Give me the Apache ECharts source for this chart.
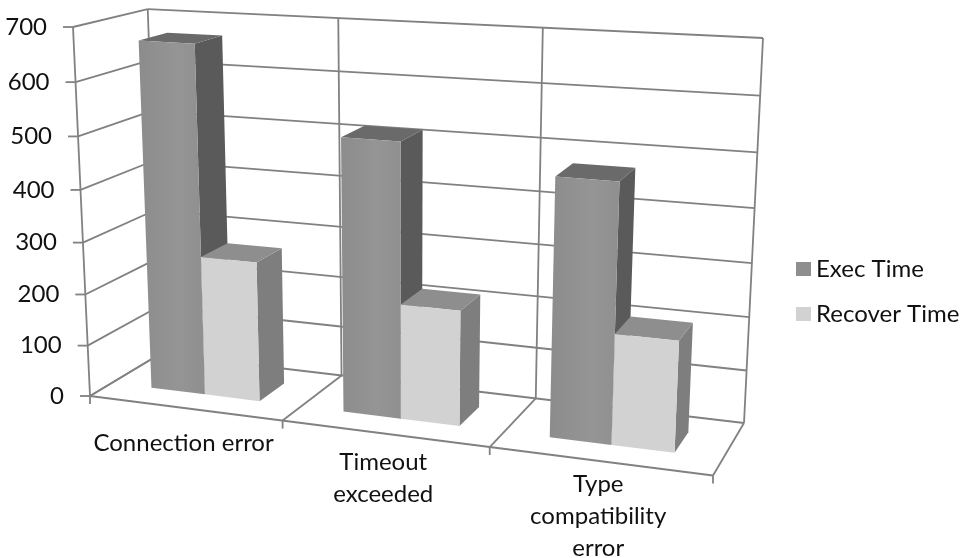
<!DOCTYPE html>
<html>
<head>
<meta charset="utf-8">
<style>html,body{margin:0;padding:0;background:#fff}#chart{width:969px;height:558px}</style>
<script src="https://cdn.jsdelivr.net/npm/echarts@6/dist/echarts.min.js"></script>
</head>
<body>
<div id="chart"></div>
<script>
// Chart content
const categories = ['Connection error', 'Timeout\nexceeded', 'Type\ncompatibility\nerror'];
const execTime = [669, 517, 476];
const recoverTime = [270, 218, 205];
const valueTicks = [0, 100, 200, 300, 400, 500, 600, 700];

// Unit box: u runs along the categories, d runs front to back, v runs up the value axis.
const corner = {
  origin: [90, 396], up: [73, 27], back: [160, 354], across: [713, 475.5],
  backAcross: [744, 423], far: [763, 38]
};
const FONT = 'Lato, "Open Sans", sans-serif';
const GRID_W = 900, GRID_H = 500;
const GAP_WIDTH = 1.5;
const DEPTH = [0.3, 0.7];
const LINE = '#818181';

// Perspective mapping of the unit box, solved from its corner positions.
const project = (function () {
  const [x0, y0] = corner.origin, G = corner.across, C = corner.back, B = corner.up, E = corner.backAcross, F = corner.far;
  const p = E[0] - G[0], q = E[0] - C[0], r = G[0] + C[0] - x0 - E[0];
  const s = E[1] - G[1], t = E[1] - C[1], w = G[1] + C[1] - y0 - E[1];
  const det = p * t - q * s;
  const c1 = (r * t - q * w) / det, c2 = (p * w - r * s) / det;
  const c3 = (G[0] * (1 + c1) + C[0] * (1 + c2) + B[0] - 2 * x0 - F[0] * (1 + c1 + c2)) / (F[0] - B[0]);
  const a = [G[0] * (1 + c1) - x0, C[0] * (1 + c2) - x0, B[0] * (1 + c3) - x0];
  const b = [G[1] * (1 + c1) - y0, C[1] * (1 + c2) - y0, B[1] * (1 + c3) - y0];
  const base = function (u, d, v) {
    const h = 1 + c1 * u + c2 * d + c3 * v;
    return [(x0 + a[0] * u + a[1] * d + a[2] * v) / h, (y0 + b[0] * u + b[1] * d + b[2] * v) / h];
  };
  // The far top corner is over-determined; spread its small leftover across the box.
  const leftover = F[1] - base(1, 1, 1)[1];
  return function (u, d, v) {
    const pt = base(u, d, v);
    return [pt[0], pt[1] + leftover * u * d * v];
  };
})();

// Convert a data value to its height in the unit box through the value axis.
function heightOf(api, value) {
  return 1 - api.coord([0, value])[1] / GRID_H;
}

function segment(p1, p2) {
  return {
    type: 'line',
    shape: { x1: p1[0], y1: p1[1], x2: p2[0], y2: p2[1] },
    style: { stroke: LINE, lineWidth: 1.8 }
  };
}

function label(text, x, y, align) {
  return {
    type: 'text',
    style: { text, x, y, align, verticalAlign: 'middle', fill: '#111111', font: '24px ' + FONT, lineHeight: 32 }
  };
}

// Walls, floor, ticks and axis labels of the box.
function renderFrame(params, api) {
  const out = [];
  const n = categories.length;
  valueTicks.forEach(function (tick) {
    const v = heightOf(api, tick);
    const front = project(0, 0, v), back = project(0, 1, v), right = project(1, 1, v);
    out.push(segment(front, back), segment(back, right));
    out.push(segment([front[0] - 10, front[1]], front));
    out.push(label(String(tick), front[0] - 26, front[1], 'right'));
  });
  out.push(segment(project(0, 0, 0), project(0, 0, 1)));
  out.push(segment(project(0, 0, 0), project(1, 0, 0)));
  for (let i = 0; i <= n; i++) {
    const u = i / n;
    out.push(segment(project(u, 1, 0), project(u, 1, 1)));
    out.push(segment(project(u, 0, 0), project(u, 1, 0)));
    const foot = project(u, 0, 0);
    out.push(segment(foot, [foot[0], foot[1] + 8]));
  }
  categories.forEach(function (name, i) {
    const centre = api.coord([i, 0])[0] / GRID_W;
    const mid = project(centre, 0, 0);
    const lines = name.split('\n').length;
    out.push(label(name, mid[0] - 1, mid[1] + 35 - 6 * i + 16 * (lines - 1), 'center'));
  });
  return { type: 'group', children: out };
}

function face(points, fill) {
  return { type: 'polygon', shape: { points }, style: { fill } };
}

// One 3D column: front, side and top faces.
function columnRenderer(seriesSlot, colours) {
  return function (params, api) {
    const bandU = api.size([1, 0])[0] / GRID_W;
    const barU = bandU / (2 + GAP_WIDTH);
    const centre = api.coord([api.value(0), 0])[0] / GRID_W;
    const u0 = centre - barU + seriesSlot * barU, u1 = u0 + barU;
    const v = heightOf(api, api.value(1));
    const [d0, d1] = DEPTH;
    return {
      type: 'group',
      children: [
        face([project(u1, d0, 0), project(u1, d1, 0), project(u1, d1, v), project(u1, d0, v)], colours.side),
        face([project(u0, d0, v), project(u1, d0, v), project(u1, d1, v), project(u0, d1, v)], colours.top),
        face([project(u0, d0, 0), project(u1, d0, 0), project(u1, d0, v), project(u0, d0, v)], colours.front)
      ]
    };
  };
}

const execColours = {
  front: {
    type: 'linear', x: 0, y: 0, x2: 1, y2: 0,
    colorStops: [{ offset: 0, color: '#8c8c8c' }, { offset: 0.6, color: '#959595' }, { offset: 1, color: '#8f8f8f' }]
  },
  side: '#5a5a5a', top: '#6a6a6a'
};
const recoverColours = { front: '#d2d2d2', side: '#7e7e7e', top: '#8e8e8e' };

const chart = echarts.init(document.getElementById('chart'), null, { renderer: 'canvas' });
chart.setOption({
  animation: false,
  backgroundColor: '#ffffff',
  // The axes stay hidden: they supply the scales that feed the perspective mapping.
  grid: { left: 0, top: 0, width: GRID_W, height: GRID_H, containLabel: false },
  xAxis: { type: 'category', data: categories, show: false },
  yAxis: { type: 'value', min: 0, max: 700, interval: 100, show: false },
  legend: {
    left: 791, top: 252, orient: 'vertical', icon: 'rect',
    itemWidth: 15, itemHeight: 14, itemGap: 21,
    data: ['Exec Time', 'Recover Time'],
    textStyle: { fontFamily: FONT, fontSize: 24, color: '#111111' }
  },
  series: [
    { type: 'custom', name: 'frame', silent: true, clip: false, z: 1, data: [[0, 0]], renderItem: renderFrame },
    {
      type: 'custom', name: 'Exec Time', clip: false, z: 2, itemStyle: { color: '#8e8e8e' },
      data: execTime.map((value, i) => [i, value]), encode: { x: 0, y: 1 },
      renderItem: columnRenderer(0, execColours)
    },
    {
      type: 'custom', name: 'Recover Time', clip: false, z: 3, itemStyle: { color: '#d2d2d2' },
      data: recoverTime.map((value, i) => [i, value]), encode: { x: 0, y: 1 },
      renderItem: columnRenderer(1, recoverColours)
    }
  ]
});
</script>
</body>
</html>
